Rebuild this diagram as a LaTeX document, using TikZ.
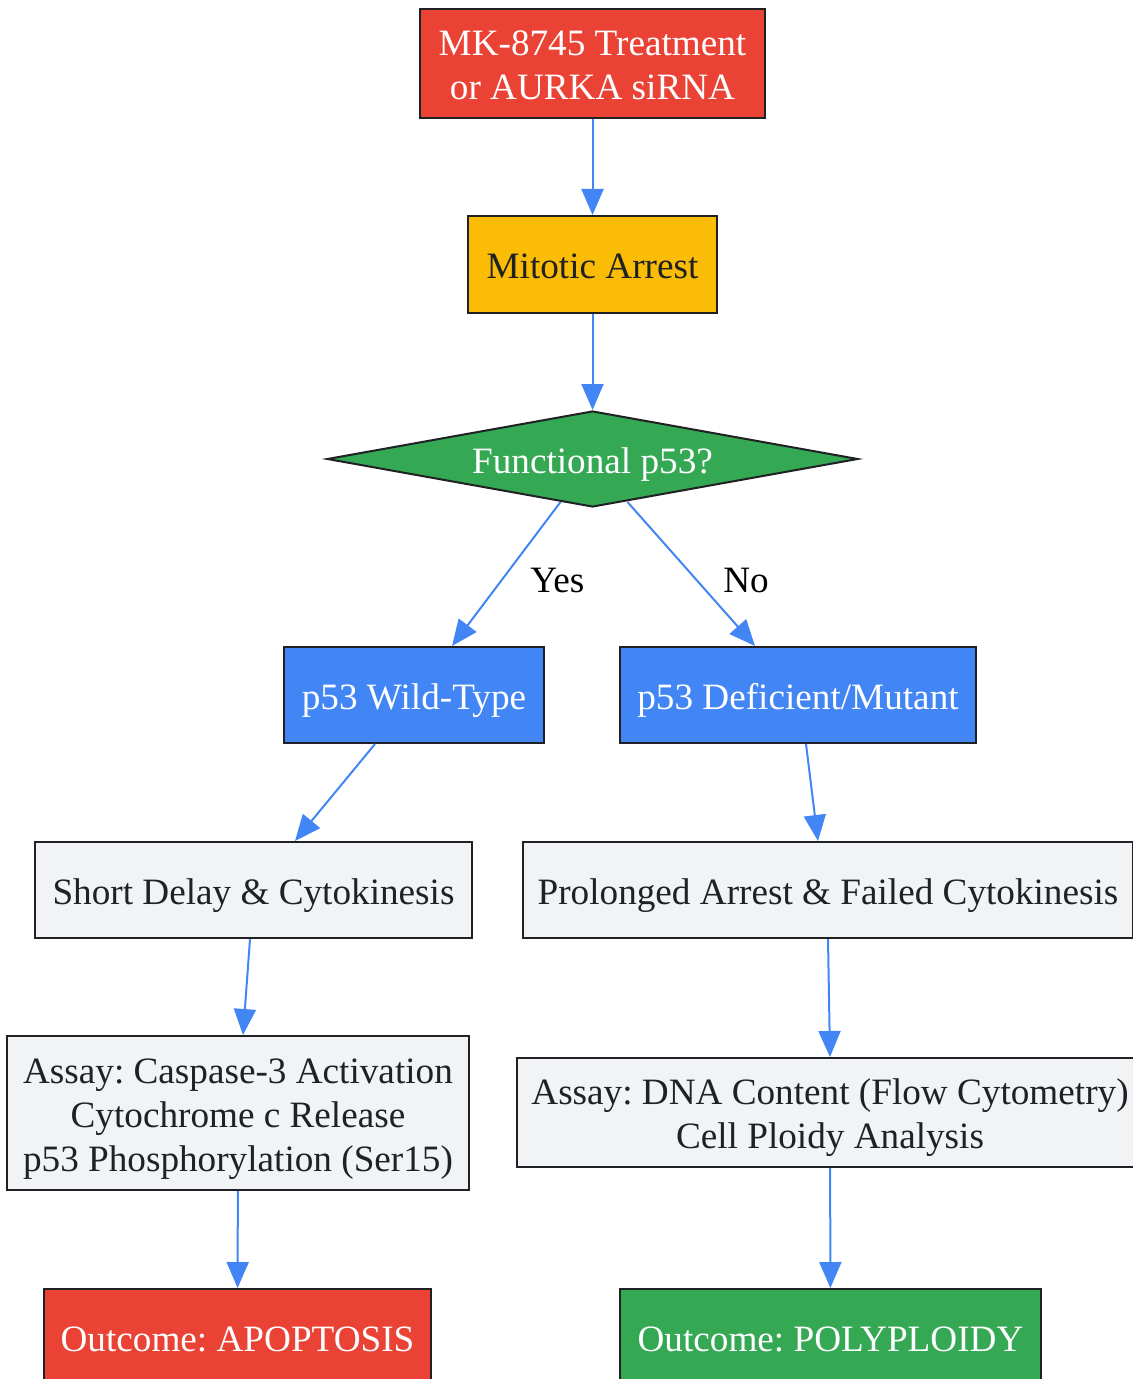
\documentclass[tikz,border=0pt]{standalone}
\usepackage{fontspec}
\setmainfont{Liberation Serif}
\usetikzlibrary{shapes.geometric,arrows.meta}
\definecolor{gred}{HTML}{EA4335}
\definecolor{gyellow}{HTML}{FBBC05}
\definecolor{ggreen}{HTML}{34A853}
\definecolor{gblue}{HTML}{4285F4}
\definecolor{glight}{HTML}{F1F3F4}
\definecolor{gdark}{HTML}{202124}
\newcommand{\topstr}{\rule{0pt}{18.7pt}}
\newcommand{\botstr}{\rule[-4.5pt]{0pt}{4.5pt}}
\tikzset{
  box/.style={draw=gdark, line width=1pt, inner sep=0pt, align=center, font=\fontsize{18.6}{22}\selectfont},
  redbox/.style={box, fill=gred, text=white},
  yellowbox/.style={box, fill=gyellow, text=gdark},
  greenbox/.style={box, fill=ggreen, text=white},
  bluebox/.style={box, fill=gblue, text=white},
  greybox/.style={box, fill=glight, text=gdark},
  flow/.style={draw=gblue, line width=1pt, -{Triangle[length=13pt,width=11pt,color=gblue]}},
  elabel/.style={inner sep=0pt, text=black, font=\fontsize{18.6}{22}\selectfont}
}
\frenchspacing
\begin{document}
\begin{tikzpicture}[x=0.5pt,y=-0.5pt]
\useasboundingbox (0,0) rectangle (1132,1379);
\node [redbox, minimum width=172.5pt, minimum height=54.5pt] (treat) at (592.5,63.5) {\topstr MK-8745 Treatment\\or AURKA siRNA\botstr};
\node [yellowbox, minimum width=124.5pt, minimum height=48.5pt] (arrest) at (592.5,264.5) {\topstr Mitotic Arrest\botstr};
\node [greenbox, diamond, aspect=5.5, minimum width=265.5pt, minimum height=48pt] (p53q) at (592.5,459) {\topstr Functional p53?\botstr};
\node [bluebox, minimum width=130pt, minimum height=48pt] (wt) at (414,695) {\topstr p53 Wild-Type\botstr};
\node [bluebox, minimum width=178pt, minimum height=48pt] (mut) at (798,695) {\topstr p53 Deficient/Mutant\botstr};
\node [greybox, minimum width=218.5pt, minimum height=48pt] (short) at (253.5,890) {\topstr Short Delay \& Cytokinesis\botstr};
\node [greybox, minimum width=305pt, minimum height=48pt] (prolong) at (828,890) {\topstr Prolonged Arrest \& Failed Cytokinesis\botstr};
\node [greybox, minimum width=231pt, minimum height=77pt] (assaya) at (238,1113) {\topstr Assay: Caspase-3 Activation\\Cytochrome c Release\\p53 Phosphorylation (Ser15)\botstr};
\node [greybox, minimum width=313pt, minimum height=54.5pt] (assayb) at (830,1112.5) {\topstr Assay: DNA Content (Flow Cytometry)\\Cell Ploidy Analysis\botstr};
\node [redbox, minimum width=193.5pt, minimum height=48pt] (apop) at (237.5,1337) {\topstr Outcome: APOPTOSIS\botstr};
\node [greenbox, minimum width=210.5pt, minimum height=48pt] (poly) at (830.5,1337) {\topstr Outcome: POLYPLOIDY\botstr};

\draw [flow] (treat) -- (arrest);
\draw [flow] (arrest) -- (p53q);
\draw [flow] ([xshift=-16pt,yshift=3pt]p53q.south) -- node[elabel, right=11.5pt, yshift=-3pt] {Yes} ([xshift=19pt]wt.north);
\draw [flow] ([xshift=17.5pt,yshift=3pt]p53q.south) -- node[elabel, right=15.5pt, yshift=-3pt] {No} ([xshift=-21.5pt]mut.north);
\draw [flow] ([xshift=-19.5pt]wt.south) -- ([xshift=20.75pt]short.north);
\draw [flow] ([xshift=4pt]mut.south) -- ([xshift=-5pt]prolong.north);
\draw [flow] ([xshift=-1.75pt]short.south) -- ([xshift=2.5pt]assaya.north);
\draw [flow] (prolong.south) -- (assayb.north);
\draw [flow] (assaya) -- (apop);
\draw [flow] (assayb) -- (poly);
\end{tikzpicture}
\end{document}
